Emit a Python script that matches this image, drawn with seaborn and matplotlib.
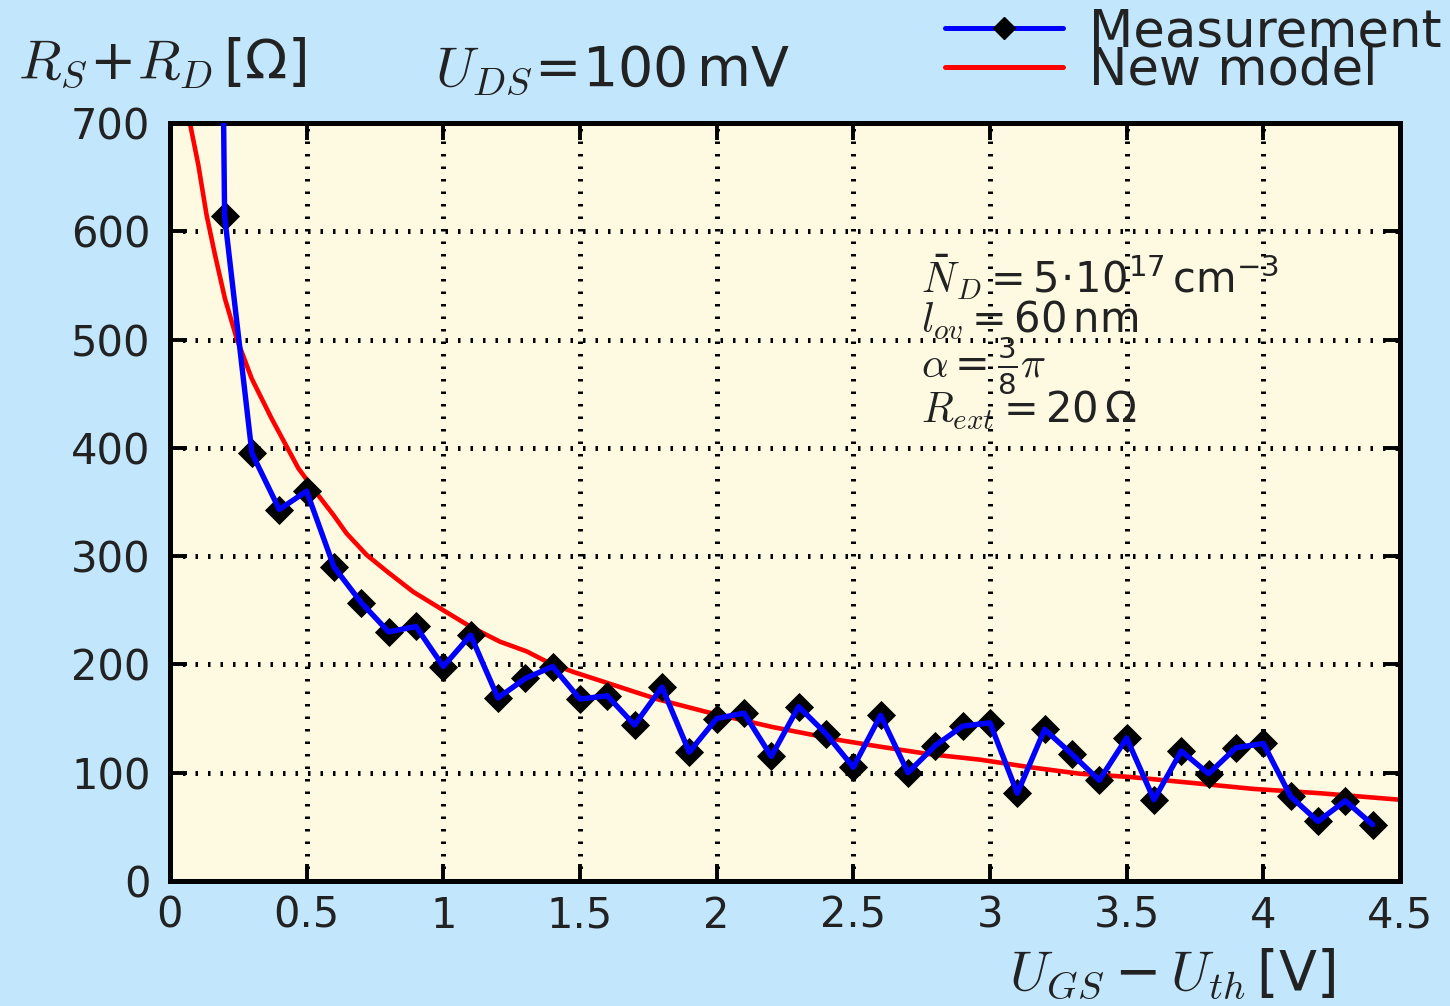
import matplotlib
matplotlib.use("Agg")
import matplotlib.pyplot as plt
from matplotlib.lines import Line2D
from matplotlib.ticker import FixedLocator, FixedFormatter
import seaborn as sns

# Measured series resistance vs. gate overdrive
u_meas = [0.1, 0.2, 0.3, 0.4, 0.5, 0.6, 0.7, 0.8, 0.9, 1.0,
          1.1, 1.2, 1.3, 1.4, 1.5, 1.6, 1.7, 1.8, 1.9, 2.0,
          2.1, 2.2, 2.3, 2.4, 2.5, 2.6, 2.7, 2.8, 2.9, 3.0,
          3.1, 3.2, 3.3, 3.4, 3.5, 3.6, 3.7, 3.8, 3.9, 4.0,
          4.1, 4.2, 4.3, 4.4]
r_meas = [3000, 614, 395, 343, 360, 290, 257, 230, 235, 198,
          227, 169, 187, 198, 168, 171, 144, 179, 119, 150,
          155, 115, 161, 136, 105, 153, 100, 125, 143, 146,
          81, 140, 117, 93, 132, 75, 120, 99, 123, 127,
          78, 55, 74, 52]

# Model curve
u_model = [0.06, 0.073, 0.104, 0.134, 0.165, 0.201, 0.244, 0.299, 0.372, 0.47,
           0.537, 0.598, 0.646, 0.72, 0.793, 0.89, 1.0, 1.098, 1.207, 1.305,
           1.39, 1.476, 1.659, 1.781, 1.964, 2.086, 2.207, 2.451, 2.598, 2.781,
           2.964, 3.147, 3.33, 3.513, 3.72, 3.964, 4.208, 4.5]
r_model = [745, 700, 661, 615, 578, 538, 501, 464, 427, 381,
           358, 338, 321, 301, 286, 267, 250, 235, 221, 212,
           201, 193, 178, 168, 156, 149, 142, 130, 124, 117,
           112, 105, 99, 96, 91, 85, 81, 75]

x_ticks = [0, 0.5, 1, 1.5, 2, 2.5, 3, 3.5, 4, 4.5]
x_tick_labels = ["0", "0.5", "1", "1.5", "2", "2.5", "3", "3.5", "4", "4.5"]
y_ticks = [0, 100, 200, 300, 400, 500, 600, 700]
y_tick_labels = ["0", "100", "200", "300", "400", "500", "600", "700"]

legend_labels = ["Measurement", "New model"]
param_lines = [
    r"$\bar{N}_D=\mathrm{5\!\cdot\!10^{17}\,cm^{-3}}$",
    r"$l_{ov}=\mathrm{60\,nm}$",
    r"$\alpha=\frac{\mathrm{3}}{\mathrm{8}}\pi$",
    r"$R_{ext}=\mathrm{20\,}\Omega$",
]

FIG_BG = "#C2E6FC"
AX_BG = "#FEFAE2"
TXT = "#222222"

sns.set_theme(style="ticks")
plt.rcParams.update({
    "font.family": ["DejaVu Sans"],
    "mathtext.fontset": "custom",
    "mathtext.rm": "DejaVu Sans",
    "mathtext.sf": "DejaVu Sans",
    "mathtext.it": "cmmi10",
    "mathtext.fallback": "cm",
    "axes.linewidth": 3.6,
    "lines.scale_dashes": True,
})

fig = plt.figure(figsize=(14.5, 10.06), dpi=100, facecolor=FIG_BG)
ax = fig.add_axes([0.1172, 0.1243, 0.8483, 0.7535], facecolor=AX_BG)

sns.lineplot(x=u_model, y=r_model, color="red", linewidth=3.3,
             estimator=None, sort=False, ax=ax, zorder=2)
sns.scatterplot(x=u_meas, y=r_meas, marker="D", s=220, color="black",
                linewidth=0, ax=ax, zorder=3, legend=False)
sns.lineplot(x=u_meas, y=r_meas, color="blue", linewidth=3.9,
             estimator=None, sort=False, ax=ax, zorder=4)

ax.set_xlim(0, 4.5)
ax.set_ylim(0, 700)
ax.xaxis.set_major_locator(FixedLocator(x_ticks))
ax.xaxis.set_major_formatter(FixedFormatter(x_tick_labels))
ax.yaxis.set_major_locator(FixedLocator(y_ticks))
ax.yaxis.set_major_formatter(FixedFormatter(y_tick_labels))
ax.set_xlabel("")
ax.set_ylabel("")

ax.set_axisbelow(True)
ax.grid(True, color="black", linewidth=3.6, linestyle=(0, (0.5, 2.0)))
ax.tick_params(direction="in", length=12, width=2.8, top=True, right=True,
               labelsize=30, labelcolor=TXT, color="black")
ax.tick_params(axis="y", pad=14)
ax.tick_params(axis="x", pad=10)
for sp in ax.spines.values():
    sp.set_visible(True)
    sp.set_linewidth(3.6)
    sp.set_color("black")

# Axis titles and operating point
fig.text(18 / 1450, 0.9215, r"$R_S\!+\!R_D\,[\Omega]$", fontsize=40,
         color=TXT, ha="left", va="baseline")
fig.text(435 / 1450, 0.9145, r"$U_{DS}\!=\!\mathrm{100\,mV}$", fontsize=40,
         color=TXT, ha="left", va="baseline")
fig.text(1335 / 1450, 0.016, r"$U_{GS}-U_{th}\,[\mathrm{V}]$", fontsize=40,
         color=TXT, ha="right", va="baseline")

# Model parameters
for txt, yb in zip(param_lines, [0.7757, 0.7230, 0.6649, 0.6042]):
    ax.text(0.6110, yb, txt, transform=ax.transAxes, fontsize=30,
            color=TXT, ha="left", va="baseline", zorder=5)

handles = [
    Line2D([], [], color="blue", linewidth=3.6, marker="D", markersize=11,
           markerfacecolor="black", markeredgecolor="black"),
    Line2D([], [], color="red", linewidth=3.6),
]
fig.legend(handles, legend_labels, loc="upper right",
           bbox_to_anchor=(0.994, 0.993), frameon=False, fontsize=37,
           handlelength=2.3, handletextpad=0.5, labelspacing=-0.22,
           borderpad=0.0, borderaxespad=0.0, labelcolor=TXT)

fig.savefig("out.png", dpi=100, facecolor=FIG_BG)
